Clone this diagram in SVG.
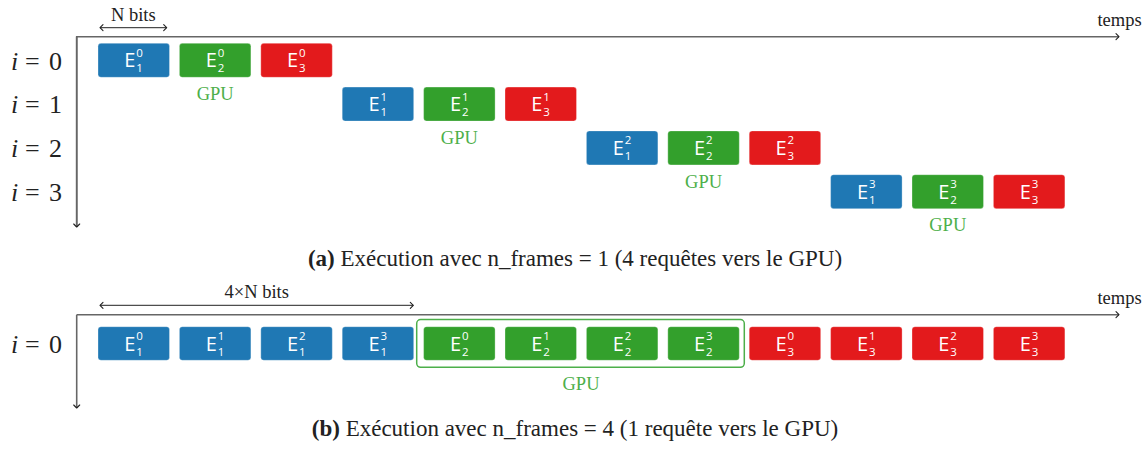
<svg xmlns="http://www.w3.org/2000/svg" width="1148" height="451" viewBox="0 0 1148 451">
<defs>
<marker id="arr" viewBox="-5 -5 10 10" markerWidth="10" markerHeight="10" markerUnits="userSpaceOnUse" orient="auto-start-reverse" refX="0" refY="0">
<path d="M-3,-3 L0,0 L-3,3" fill="none" stroke="#222" stroke-width="1.1" stroke-linecap="round" stroke-linejoin="round"/>
</marker>
<style>
.axis{fill:none;stroke:#666;stroke-width:1.6}
.dim{fill:none;stroke:#222;stroke-width:1}
.b{stroke:#ffffff;stroke-opacity:0.3;stroke-width:1}
.c1{fill:#1f78b4}.c2{fill:#33a02c}.c3{fill:#e31a1c}
.E{font-family:"Open Sans","DejaVu Sans",sans-serif;font-size:20px;fill:#fff}
.s{font-size:11.5px}
.lab{font-family:"Liberation Serif",serif;font-size:18.5px;fill:#222}
.gpu{font-family:"Liberation Serif",serif;font-size:18.5px;fill:#4daf4a;text-anchor:middle}
.idx{font-family:"Liberation Serif",serif;font-size:26px;fill:#222}
.cap{font-family:"Liberation Serif",serif;font-size:23px;fill:#222;text-anchor:middle}
</style>
</defs>
<rect width="1148" height="451" fill="#fff"/>

<g id="connectors">
<path class="axis" d="M76.7,227 V36.7 H1119" marker-end="url(#arr)"/>
<path class="axis" d="M76.7,36.7 V227" marker-end="url(#arr)"/>
<path class="dim" d="M100,27.7 H166.7" marker-start="url(#arr)" marker-end="url(#arr)"/>
<path class="axis" d="M76.7,314.7 H1119" marker-end="url(#arr)"/>
<path class="axis" d="M76.7,314.7 V408" marker-end="url(#arr)"/>
<path class="dim" d="M100,305.3 H413.3" marker-start="url(#arr)" marker-end="url(#arr)"/>
</g>

<g id="labels">
<text class="lab" x="133.3" y="21" text-anchor="middle">N bits</text>
<text class="lab" x="1119.5" y="26" text-anchor="middle">temps</text>
<text class="lab" x="256.7" y="298" text-anchor="middle">4×N bits</text>
<text class="lab" x="1119.5" y="304" text-anchor="middle">temps</text>
<text class="idx" y="69.5"><tspan x="11" font-style="italic">i</tspan><tspan x="25">=</tspan><tspan x="49">0</tspan></text>
<text class="idx" y="113.3"><tspan x="11" font-style="italic">i</tspan><tspan x="25">=</tspan><tspan x="49">1</tspan></text>
<text class="idx" y="157.1"><tspan x="11" font-style="italic">i</tspan><tspan x="25">=</tspan><tspan x="49">2</tspan></text>
<text class="idx" y="200.9"><tspan x="11" font-style="italic">i</tspan><tspan x="25">=</tspan><tspan x="49">3</tspan></text>
<text class="idx" y="352.7"><tspan x="11" font-style="italic">i</tspan><tspan x="25">=</tspan><tspan x="49">0</tspan></text>
<text class="cap" x="575" y="266"><tspan font-weight="bold">(a)</tspan> Exécution avec n_frames = 1 (4 requêtes vers le GPU)</text>
<text class="cap" x="575" y="436"><tspan font-weight="bold">(b)</tspan> Exécution avec n_frames = 4 (1 requête vers le GPU)</text>
</g>

<!-- Part (a) -->
<g id="a-E1-0"><rect class="c1 b" x="98" y="43.3" width="71.5" height="34" rx="3"/><text class="E" x="124.3" y="67.3">E<tspan class="s" x="136.3" dy="-10.5">0</tspan><tspan class="s" x="136.3" dy="15.5">1</tspan></text></g>
<g id="a-E2-0"><rect class="c2 b" x="179.4" y="43.3" width="71.5" height="34" rx="3"/><text class="E" x="205.7" y="67.3">E<tspan class="s" x="217.7" dy="-10.5">0</tspan><tspan class="s" x="217.7" dy="15.5">2</tspan></text></g>
<g id="a-E3-0"><rect class="c3 b" x="260.8" y="43.3" width="71.5" height="34" rx="3"/><text class="E" x="287.1" y="67.3">E<tspan class="s" x="299.1" dy="-10.5">0</tspan><tspan class="s" x="299.1" dy="15.5">3</tspan></text></g>
<g id="a-gpu-0"><text class="gpu" x="215.15" y="100">GPU</text></g>

<g id="a-E1-1"><rect class="c1 b" x="342.2" y="87.1" width="71.5" height="34" rx="3"/><text class="E" x="368.5" y="111.1">E<tspan class="s" x="380.5" dy="-10.5">1</tspan><tspan class="s" x="380.5" dy="15.5">1</tspan></text></g>
<g id="a-E2-1"><rect class="c2 b" x="423.6" y="87.1" width="71.5" height="34" rx="3"/><text class="E" x="449.9" y="111.1">E<tspan class="s" x="461.9" dy="-10.5">1</tspan><tspan class="s" x="461.9" dy="15.5">2</tspan></text></g>
<g id="a-E3-1"><rect class="c3 b" x="505" y="87.1" width="71.5" height="34" rx="3"/><text class="E" x="531.3" y="111.1">E<tspan class="s" x="543.3" dy="-10.5">1</tspan><tspan class="s" x="543.3" dy="15.5">3</tspan></text></g>
<g id="a-gpu-1"><text class="gpu" x="459.35" y="143.8">GPU</text></g>

<g id="a-E1-2"><rect class="c1 b" x="586.4" y="130.9" width="71.5" height="34" rx="3"/><text class="E" x="612.7" y="154.9">E<tspan class="s" x="624.7" dy="-10.5">2</tspan><tspan class="s" x="624.7" dy="15.5">1</tspan></text></g>
<g id="a-E2-2"><rect class="c2 b" x="667.8" y="130.9" width="71.5" height="34" rx="3"/><text class="E" x="694.1" y="154.9">E<tspan class="s" x="706.1" dy="-10.5">2</tspan><tspan class="s" x="706.1" dy="15.5">2</tspan></text></g>
<g id="a-E3-2"><rect class="c3 b" x="749.2" y="130.9" width="71.5" height="34" rx="3"/><text class="E" x="775.5" y="154.9">E<tspan class="s" x="787.5" dy="-10.5">2</tspan><tspan class="s" x="787.5" dy="15.5">3</tspan></text></g>
<g id="a-gpu-2"><text class="gpu" x="703.55" y="187.6">GPU</text></g>

<g id="a-E1-3"><rect class="c1 b" x="830.6" y="174.7" width="71.5" height="34" rx="3"/><text class="E" x="856.9" y="198.7">E<tspan class="s" x="868.9" dy="-10.5">3</tspan><tspan class="s" x="868.9" dy="15.5">1</tspan></text></g>
<g id="a-E2-3"><rect class="c2 b" x="912" y="174.7" width="71.5" height="34" rx="3"/><text class="E" x="938.3" y="198.7">E<tspan class="s" x="950.3" dy="-10.5">3</tspan><tspan class="s" x="950.3" dy="15.5">2</tspan></text></g>
<g id="a-E3-3"><rect class="c3 b" x="993.4" y="174.7" width="71.5" height="34" rx="3"/><text class="E" x="1019.7" y="198.7">E<tspan class="s" x="1031.7" dy="-10.5">3</tspan><tspan class="s" x="1031.7" dy="15.5">3</tspan></text></g>
<g id="a-gpu-3"><text class="gpu" x="947.75" y="231.4">GPU</text></g>

<!-- Part (b) -->
<g id="b-gpu"><rect x="416.7" y="319.5" width="327.6" height="47.8" rx="4" fill="none" stroke="#4daf4a" stroke-width="1.5"/><text class="gpu" x="581" y="390">GPU</text></g>
<g id="b-E1-0"><rect class="c1 b" x="98" y="326.7" width="71.5" height="33.6" rx="3"/><text class="E" x="124.3" y="350.5">E<tspan class="s" x="136.3" dy="-10.5">0</tspan><tspan class="s" x="136.3" dy="15.5">1</tspan></text></g>
<g id="b-E1-1"><rect class="c1 b" x="179.4" y="326.7" width="71.5" height="33.6" rx="3"/><text class="E" x="205.7" y="350.5">E<tspan class="s" x="217.7" dy="-10.5">1</tspan><tspan class="s" x="217.7" dy="15.5">1</tspan></text></g>
<g id="b-E1-2"><rect class="c1 b" x="260.8" y="326.7" width="71.5" height="33.6" rx="3"/><text class="E" x="287.1" y="350.5">E<tspan class="s" x="299.1" dy="-10.5">2</tspan><tspan class="s" x="299.1" dy="15.5">1</tspan></text></g>
<g id="b-E1-3"><rect class="c1 b" x="342.2" y="326.7" width="71.5" height="33.6" rx="3"/><text class="E" x="368.5" y="350.5">E<tspan class="s" x="380.5" dy="-10.5">3</tspan><tspan class="s" x="380.5" dy="15.5">1</tspan></text></g>
<g id="b-E2-0"><rect class="c2 b" x="423.6" y="326.7" width="71.5" height="33.6" rx="3"/><text class="E" x="449.9" y="350.5">E<tspan class="s" x="461.9" dy="-10.5">0</tspan><tspan class="s" x="461.9" dy="15.5">2</tspan></text></g>
<g id="b-E2-1"><rect class="c2 b" x="505" y="326.7" width="71.5" height="33.6" rx="3"/><text class="E" x="531.3" y="350.5">E<tspan class="s" x="543.3" dy="-10.5">1</tspan><tspan class="s" x="543.3" dy="15.5">2</tspan></text></g>
<g id="b-E2-2"><rect class="c2 b" x="586.4" y="326.7" width="71.5" height="33.6" rx="3"/><text class="E" x="612.7" y="350.5">E<tspan class="s" x="624.7" dy="-10.5">2</tspan><tspan class="s" x="624.7" dy="15.5">2</tspan></text></g>
<g id="b-E2-3"><rect class="c2 b" x="667.8" y="326.7" width="71.5" height="33.6" rx="3"/><text class="E" x="694.1" y="350.5">E<tspan class="s" x="706.1" dy="-10.5">3</tspan><tspan class="s" x="706.1" dy="15.5">2</tspan></text></g>
<g id="b-E3-0"><rect class="c3 b" x="749.2" y="326.7" width="71.5" height="33.6" rx="3"/><text class="E" x="775.5" y="350.5">E<tspan class="s" x="787.5" dy="-10.5">0</tspan><tspan class="s" x="787.5" dy="15.5">3</tspan></text></g>
<g id="b-E3-1"><rect class="c3 b" x="830.6" y="326.7" width="71.5" height="33.6" rx="3"/><text class="E" x="856.9" y="350.5">E<tspan class="s" x="868.9" dy="-10.5">1</tspan><tspan class="s" x="868.9" dy="15.5">3</tspan></text></g>
<g id="b-E3-2"><rect class="c3 b" x="912" y="326.7" width="71.5" height="33.6" rx="3"/><text class="E" x="938.3" y="350.5">E<tspan class="s" x="950.3" dy="-10.5">2</tspan><tspan class="s" x="950.3" dy="15.5">3</tspan></text></g>
<g id="b-E3-3"><rect class="c3 b" x="993.4" y="326.7" width="71.5" height="33.6" rx="3"/><text class="E" x="1019.7" y="350.5">E<tspan class="s" x="1031.7" dy="-10.5">3</tspan><tspan class="s" x="1031.7" dy="15.5">3</tspan></text></g>
</svg>
